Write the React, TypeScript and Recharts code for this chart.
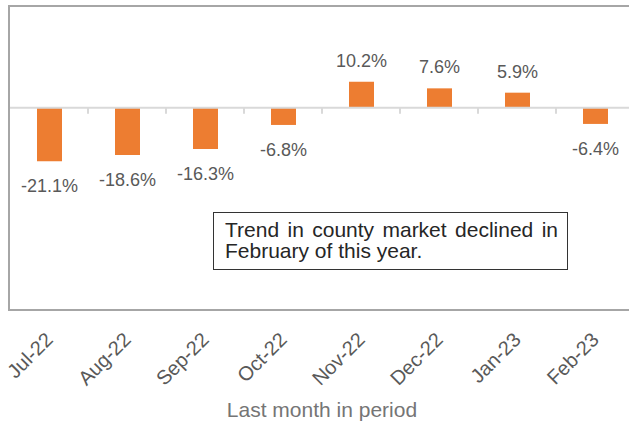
import { Bar, BarChart, LabelList, ReferenceLine, XAxis, YAxis } from 'recharts';

const months = ['Jul-22', 'Aug-22', 'Sep-22', 'Oct-22', 'Nov-22', 'Dec-22', 'Jan-23', 'Feb-23'];
const changes = [-21.1, -18.6, -16.3, -6.8, 10.2, 7.6, 5.9, -6.4];
const boundaries = [1, 2, 3, 4, 5, 6, 7];

const data = months.map((month, i) => ({ month, change: changes[i], slot: i + 0.5 }));

const FONT = '"Liberation Sans", Arial, sans-serif';

const MonthTick = (props: any) => {
  const { x, y, payload } = props;
  return (
    <g transform={`translate(${x + 5},${y + 22})`}>
      <text x={0} y={0} textAnchor="end" transform="rotate(-45)" fontSize={20} fill="#595959" fontFamily={FONT}>
        {payload.value}
      </text>
    </g>
  );
};

const ValueLabel = (props: any) => {
  const { x, y, width, height, value } = props;
  const top = Math.min(y, y + height);
  const bottom = Math.max(y, y + height);
  const ty = value >= 0 ? top - 15 : bottom + 31;
  return (
    <text x={x + width / 2} y={ty} textAnchor="middle" fontSize={18} fill="#595959" fontFamily={FONT}>
      {value.toFixed(1)}%
    </text>
  );
};

export default function App() {
  return (
    <div style={{ position: 'absolute', left: 0, top: 0, width: 629, height: 423, overflow: 'hidden', background: '#fff' }}>
      <div
        style={{
          position: 'absolute',
          left: 8,
          top: 5,
          width: 700,
          height: 306,
          boxSizing: 'border-box',
          border: '2px solid #a6a6a6',
        }}
      />
      <div style={{ position: 'absolute', left: 0, top: 0 }}>
        <BarChart width={680} height={423} data={data} margin={{ top: 6, right: 46, left: 10, bottom: 0 }}>
          <XAxis
            dataKey="month"
            height={112}
            axisLine={false}
            tickLine={false}
            interval={0}
            tick={<MonthTick />}
            label={{
              value: 'Last month in period',
              position: 'insideBottom',
              offset: 6,
              fontSize: 21,
              fill: '#757575',
              fontFamily: FONT,
            }}
          />
          <XAxis xAxisId="grid" dataKey="slot" type="number" domain={[0, 8]} allowDataOverflow hide />
          <YAxis hide domain={[-80, 40]} />
          <ReferenceLine y={0} stroke="#d9d9d9" strokeWidth={2} />
          {boundaries.map((b) => (
            <ReferenceLine
              key={b}
              xAxisId="grid"
              segment={[
                { x: b, y: 0 },
                { x: b, y: -2.4 },
              ]}
              stroke="#d9d9d9"
              strokeWidth={2}
            />
          ))}
          <Bar dataKey="change" fill="#ed7d31" barSize={25} isAnimationActive={false}>
            <LabelList dataKey="change" content={<ValueLabel />} />
          </Bar>
        </BarChart>
      </div>
      <div
        style={{
          position: 'absolute',
          left: 213,
          top: 212,
          width: 355,
          height: 58,
          boxSizing: 'border-box',
          border: '1px solid #333',
          padding: '6px 9px 0 11px',
          fontFamily: FONT,
          fontSize: 21,
          lineHeight: '21px',
          color: '#262626',
          textAlign: 'justify',
          background: '#fff',
        }}
      >
        Trend in county market declined in February of this year.
      </div>
    </div>
  );
}
